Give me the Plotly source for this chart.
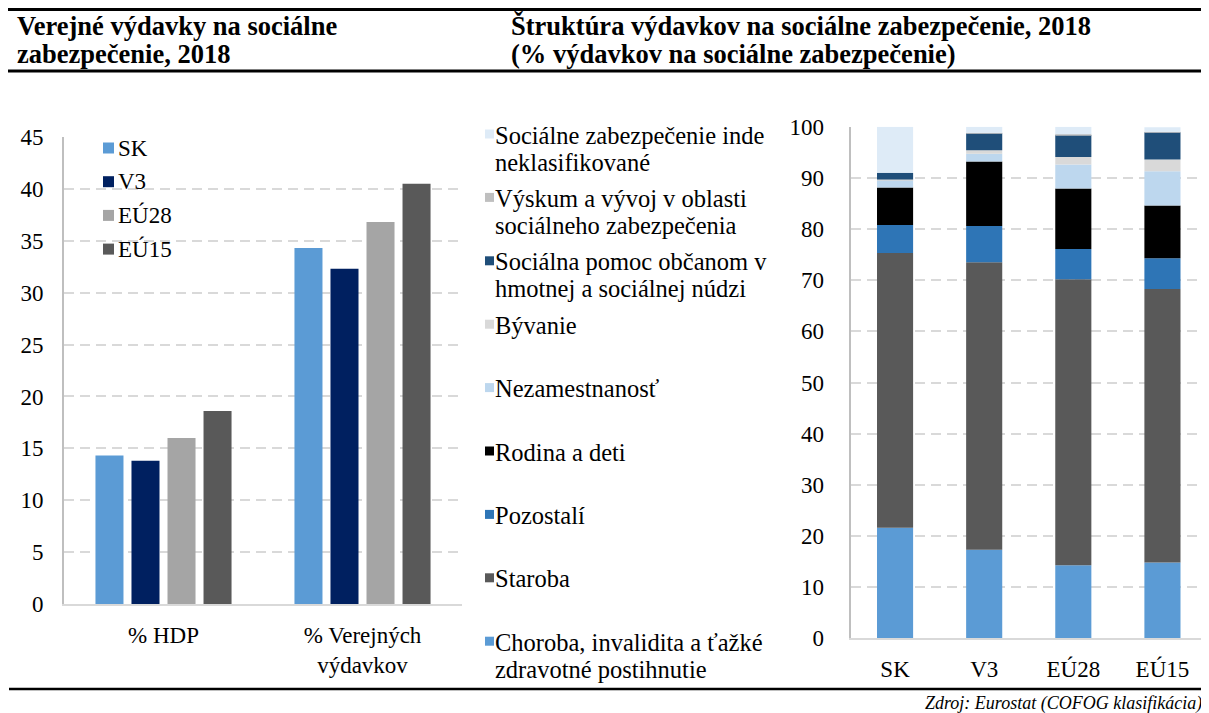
import numpy as np
import plotly.graph_objects as go

# The page body adds an 8px margin; the figure is sized so that it ends
# exactly at the 1209x713 window edge, and screen coordinates are mapped.
OFF = 8
W, H = 1209 - OFF, 713 - OFF

# ---------------- Data: left chart ----------------
groups = ["% HDP", "% Verejných<br>výdavkov"]
countries = ["SK", "V3", "EÚ28", "EÚ15"]
sk_vals = [14.3, 34.3]
v3_vals = [13.8, 32.3]
eu28_vals = [16.0, 36.8]
eu15_vals = [18.6, 40.5]
left_colors = ["#5B9BD5", "#002060", "#A5A5A5", "#595959"]

# ---------------- Data: right chart ----------------
regions = ["SK", "V3", "EÚ28", "EÚ15"]
choroba = [21.6, 17.3, 14.3, 14.8]
staroba = [53.7, 56.2, 55.9, 53.5]
pozostali = [5.5, 7.1, 5.9, 6.0]
rodina = [7.3, 12.6, 11.8, 10.3]
nezam = [1.5, 1.5, 4.7, 6.7]
byvanie = [0.1, 0.7, 1.5, 2.3]
pomoc = [1.3, 3.3, 4.3, 5.3]
vyskum = [0.0, 0.1, 0.1, 0.1]
inde = [9.0, 1.2, 1.5, 0.9]

right_names = [
    ["Choroba, invalidita a ťažké", "zdravotné postihnutie"],
    ["Staroba"],
    ["Pozostalí"],
    ["Rodina a deti"],
    ["Nezamestnanosť"],
    ["Bývanie"],
    ["Sociálna pomoc občanom v", "hmotnej a sociálnej núdzi"],
    ["Výskum a vývoj v oblasti", "sociálneho zabezpečenia"],
    ["Sociálne zabezpečenie inde", "neklasifikované"],
]
right_series = [choroba, staroba, pozostali, rodina, nezam, byvanie, pomoc, vyskum, inde]
right_colors = ["#5B9BD5", "#595959", "#2E75B6", "#000000", "#BDD7EE",
                "#D9D9D9", "#1F4E79", "#BFBFBF", "#DEEBF7"]

FONT = "Liberation Serif"


def px(x):
    return (x - OFF) / W


def py(y):
    return 1 - (y - OFF) / H


fig = go.Figure()

# Left grouped bars
left_series = [sk_vals, v3_vals, eu28_vals, eu15_vals]
for name, vals, col in zip(countries, left_series, left_colors):
    fig.add_trace(go.Bar(x=groups, y=vals, name=name, marker_color=col,
                         marker_line_width=0, showlegend=False,
                         xaxis="x", yaxis="y"))

# Right stacked bars (base from cumulative sums)
bases = np.cumsum([[0] * 4] + right_series[:-1], axis=0)
for lines, vals, base, col in zip(right_names, right_series, bases, right_colors):
    fig.add_trace(go.Bar(x=regions, y=vals, base=list(base), name=" ".join(lines),
                         marker_color=col, marker_line_width=0, width=0.405,
                         offsetgroup="stack", showlegend=False,
                         xaxis="x2", yaxis="y2"))

grid = dict(showgrid=True, gridcolor="#D9D9D9", gridwidth=2, griddash="10px,6px",
            zeroline=False, showline=True, linecolor="#BFBFBF", linewidth=2,
            ticks="outside", tickcolor="rgba(0,0,0,0)", automargin=False,
            tickfont=dict(family=FONT, size=23, color="#000"))
xcommon = dict(showgrid=False, zeroline=False, showline=True, linecolor="#D9D9D9",
               linewidth=2, ticks="outside", tickcolor="rgba(0,0,0,0)", automargin=False,
               tickfont=dict(family=FONT, size=23, color="#000"), type="category")

fig.update_layout(
    width=W, height=H, margin=dict(l=0, r=0, t=0, b=0, autoexpand=False),
    paper_bgcolor="white", plot_bgcolor="white",
    barmode="group", bargap=0.276, bargroupgap=0.222,
    xaxis=dict(domain=[px(64), px(462)], anchor="y", ticklen=9, **xcommon),
    yaxis=dict(domain=[py(604), py(137)], anchor="x", range=[0, 45], dtick=5,
               ticklen=14, **grid),
    xaxis2=dict(domain=[px(850.5), px(1207)], anchor="y2", ticklen=9, **xcommon),
    yaxis2=dict(domain=[py(638.3), py(126.7)], anchor="x2", range=[0, 100], dtick=10,
                ticklen=20, **grid),
)

annotations = []
shapes = []

# Titles
title_font = dict(family=FONT, size=26.5, color="#000")
for x0, lines in [(15, ["<b>Verejné výdavky na sociálne</b>", "<b>zabezpečenie, 2018</b>"]),
                  (509, ["<b>Štruktúra výdavkov na sociálne zabezpečenie, 2018</b>",
                         "<b>(% výdavkov na sociálne zabezpečenie)</b>"])]:
    for i, t in enumerate(lines):
        annotations.append(dict(x=px(x0), y=py(26 + 28 * i), xref="paper", yref="paper",
                                text=t, showarrow=False, xanchor="left", yanchor="middle",
                                font=title_font))

# Horizontal rules
for y0, x0, lw in [(9.5, 7, 3), (71, 7, 3), (689, 9, 2.5)]:
    shapes.append(dict(type="line", xref="paper", yref="paper",
                       x0=px(x0), x1=1, y0=py(y0), y1=py(y0),
                       line=dict(color="#000", width=lw)))

# Source
annotations.append(dict(x=px(1204), y=py(703), xref="paper", yref="paper",
                        text="<i>Zdroj: Eurostat (COFOG klasifikácia)</i>", showarrow=False,
                        xanchor="right", yanchor="middle",
                        font=dict(family=FONT, size=18, color="#000")))

# Left legend
for i, (name, col) in enumerate(zip(countries, left_colors)):
    cy = 148 + 33.7 * i
    shapes.append(dict(type="rect", xref="paper", yref="paper", x0=px(103), x1=px(114),
                       y0=py(cy - 5.5), y1=py(cy + 5.5), fillcolor=col, line_width=0))
    annotations.append(dict(x=px(116), y=py(cy), xref="paper", yref="paper", text=name,
                            showarrow=False, xanchor="left", yanchor="middle",
                            font=dict(family=FONT, size=23, color="#000")))

# Right legend (top to bottom reversed from stacking order)
for i, (lines, col) in enumerate(zip(right_names[::-1], right_colors[::-1])):
    cy = 135 + 63.4 * i
    shapes.append(dict(type="rect", xref="paper", yref="paper", x0=px(485), x1=px(494),
                       y0=py(cy - 5.5), y1=py(cy + 3.5), fillcolor=col, line_width=0))
    for j, t in enumerate(lines):
        annotations.append(dict(x=px(493), y=py(cy + 27 * j), xref="paper", yref="paper",
                                text=t, showarrow=False, xanchor="left", yanchor="middle",
                                font=dict(family=FONT, size=24.5, color="#000")))

fig.update_layout(annotations=annotations, shapes=shapes)
fig.write_html("out.html")
